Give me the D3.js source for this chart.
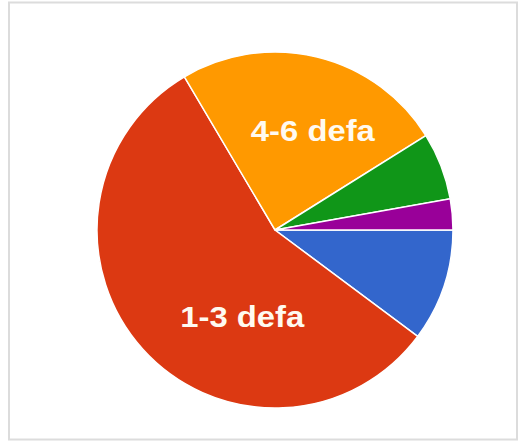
<!DOCTYPE html>
<html>
<head>
<meta charset="utf-8">
<script src="https://cdn.jsdelivr.net/npm/d3@7"></script>
<style>
  html, body { margin: 0; padding: 0; background: #fff; }
  svg { display: block; }
</style>
</head>
<body>
<svg id="chart" width="524" height="443"></svg>
<script>
// slice data, in drawing order (clockwise from 3 o'clock)
const categories = ["0 defa", "1-3 defa", "4-6 defa", "7-9 defa", "10+ defa"];
const values = [10.2, 56.3, 24.6, 6.1, 2.8];
const colors = ["#3366cc", "#dc3912", "#ff9900", "#109618", "#990099"];

const width = 524, height = 443;
const cx = 275, cy = 230, radius = 178;

const svg = d3.select("#chart");

// frame
svg.append("rect")
  .attr("x", 9)
  .attr("y", 2.5)
  .attr("width", 508)
  .attr("height", 437)
  .attr("fill", "none")
  .attr("stroke", "#dcdcdc")
  .attr("stroke-width", 2);

const pie = d3.pie()
  .sort(null)
  .startAngle(Math.PI / 2)
  .endAngle(Math.PI / 2 + 2 * Math.PI)
  .value((d) => d.value);

const data = categories.map((c, i) => ({ name: c, value: values[i], color: colors[i] }));
const arcs = pie(data);

const arc = d3.arc().innerRadius(0).outerRadius(radius);

const g = svg.append("g").attr("transform", `translate(${cx},${cy})`);

g.selectAll("path.slice")
  .data(arcs)
  .join("path")
  .attr("class", "slice")
  .attr("d", arc)
  .attr("fill", (d) => d.data.color)
  .attr("stroke", "#fff")
  .attr("stroke-width", 1.5);

// label placement inside slice: fraction along the slice, and radius fraction
const labelAt = { "1-3 defa": [0.365, 0.52], "4-6 defa": [0.58, 0.6] };

g.selectAll("text.lbl")
  .data(arcs.filter((d) => labelAt[d.data.name]))
  .join("text")
  .attr("class", "lbl")
  .attr("transform", (d) => {
    const [f, rf] = labelAt[d.data.name];
    const a = d.startAngle + (d.endAngle - d.startAngle) * f;
    const r = radius * rf;
    return `translate(${Math.sin(a) * r},${-Math.cos(a) * r})`;
  })
  .attr("text-anchor", "middle")
  .attr("dy", "0.36em")
  .attr("textLength", 124)
  .attr("lengthAdjust", "spacingAndGlyphs")
  .style("font-family", "'Liberation Sans', Arial, sans-serif")
  .style("font-size", "30px")
  .style("font-weight", "bold")
  .style("fill", "#fffaf0")
  .text((d) => d.data.name);
</script>
</body>
</html>
